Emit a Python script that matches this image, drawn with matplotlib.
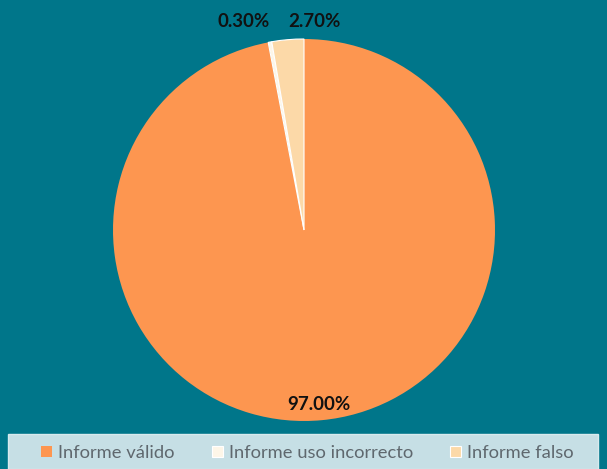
import matplotlib
matplotlib.use("Agg")
import matplotlib.pyplot as plt
from matplotlib.patches import Rectangle

categories = ["Informe válido", "Informe uso incorrecto", "Informe falso"]
values = [97.00, 0.30, 2.70]
labels = ["97.00%", "0.30%", "2.70%"]
colors = ["#FD9650", "#FDF6E8", "#FCD9A8"]

W, H = 607, 469
fig = plt.figure(figsize=(W / 100, H / 100), dpi=100)
fig.patch.set_facecolor("#00768A")
ax = fig.add_axes([0, 0, 1, 1])

cx, cy, r = 304, H - 230, 191
wedges, _ = ax.pie(values, colors=colors, startangle=90, counterclock=False,
                   center=(cx, cy), radius=r, frame=True,
                   wedgeprops=dict(linewidth=0.8, edgecolor="#FFFFFF"))
ax.set_xlim(0, W)
ax.set_ylim(0, H)
ax.set_aspect("equal")
ax.axis("off")
wedges[0].set_linewidth(0)

label_pos = [(319, H - 404), (244, H - 21), (314, H - 21)]
for (x, y), t in zip(label_pos, labels):
    ax.text(x, y, t, ha="center", va="center", fontsize=13.5,
            fontweight="bold", family="Lato", color="#111111")

fig.patches.append(Rectangle((8 / W, 0), (598 - 8) / W, (469 - 434) / H,
                             transform=fig.transFigure, facecolor="#C6DFE5",
                             edgecolor="#D8EAEE", linewidth=1, zorder=0))

leg = fig.legend(wedges, categories, loc="center", ncol=3,
                 bbox_to_anchor=(307.5 / W, (H - 453) / H), frameon=False,
                 prop={"family": "Lato", "size": 13.2}, handlelength=0.6,
                 handleheight=0.6, handletextpad=0.3, columnspacing=2.05,
                 borderaxespad=0, borderpad=0)
for t in leg.get_texts():
    t.set_color("#5F686E")

fig.savefig("out.png", dpi=100, facecolor=fig.get_facecolor())
